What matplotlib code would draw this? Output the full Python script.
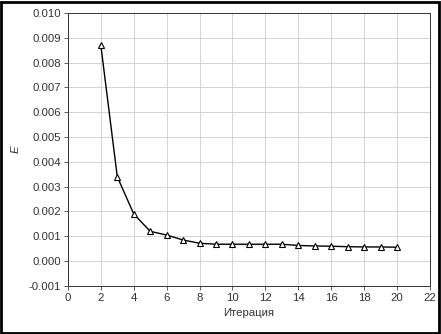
import matplotlib
matplotlib.use("Agg")
import matplotlib.pyplot as plt
from matplotlib.patches import Rectangle

# data
iters = [2, 3, 4, 5, 6, 7, 8, 9, 10, 11, 12, 13, 14, 15, 16, 17, 18, 19, 20]
err = [0.0087, 0.0034, 0.0019, 0.0012, 0.00105, 0.00085, 0.00072, 0.00068, 0.00068,
       0.00068, 0.00068, 0.00068, 0.00063, 0.00061, 0.0006, 0.00058, 0.00057, 0.00057, 0.00056]

xticks = list(range(0, 23, 2))
yticks = [-0.001, 0.0, 0.001, 0.002, 0.003, 0.004, 0.005, 0.006, 0.007, 0.008, 0.009, 0.010]

plt.rcParams['font.family'] = ['Liberation Sans', 'DejaVu Sans']
plt.rcParams['font.size'] = 8.2

fig = plt.figure(figsize=(4.41, 3.34), dpi=100)
ax = fig.add_axes([0.154, 0.144, 0.821, 0.817])

ax.plot(iters, err, color='black', lw=1.0, marker='^', markersize=4.5,
        markerfacecolor='white', markeredgecolor='black', markeredgewidth=0.8)

ax.set_xlim(0, 22)
ax.set_ylim(-0.001, 0.010)
ax.set_xticks(xticks)
ax.set_yticks(yticks)
ax.set_yticklabels(['%.3f' % v for v in yticks])
ax.grid(True, color='#d4d4d4', lw=0.7)
ax.set_axisbelow(True)
ax.tick_params(length=3, width=0.6, color='#444444', labelcolor='#333333', pad=2)
for s in ax.spines.values():
    s.set_linewidth(0.7)
    s.set_color('#333333')

ax.set_xlabel('Итерация', color='#333333', labelpad=4)
ax.set_ylabel('E', color='#333333', style='italic', labelpad=6)

# outer frame
fig.patches.append(Rectangle((0.003, 0.004), 0.992, 0.990, transform=fig.transFigure,
                             fill=False, edgecolor='black', lw=2.0))

fig.savefig('out.png', dpi=100)
